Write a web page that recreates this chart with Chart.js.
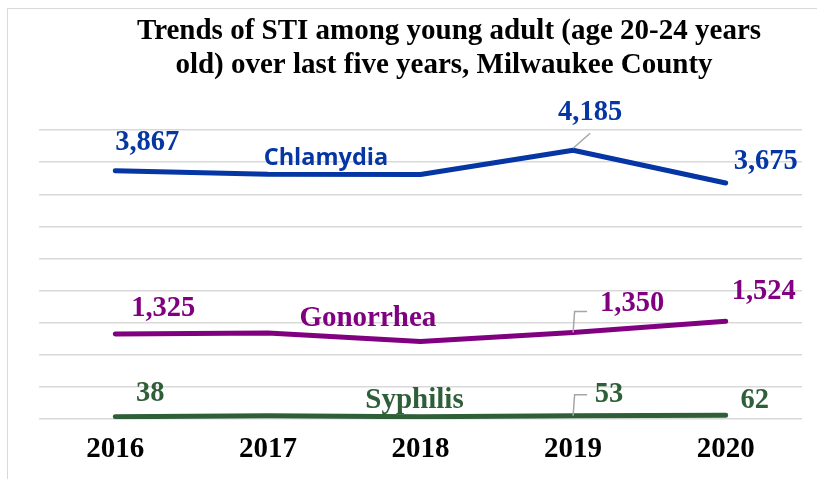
<!DOCTYPE html>
<html>
<head>
<meta charset="utf-8">
<script src="https://cdn.jsdelivr.net/npm/chart.js@4.4.1/dist/chart.umd.min.js"></script>
<style>
  html, body { margin: 0; padding: 0; background: #fff; overflow: hidden; }
  #wrap { position: relative; width: 817px; height: 479px; }
  #frame { position: absolute; left: 7px; top: 8px; width: 900px; height: 600px; border: 1.5px solid #d9d9d9; box-sizing: border-box; }
  canvas { position: absolute; left: 0; top: 0; }
</style>
</head>
<body>
<div id="wrap">
  <div id="frame"></div>
  <canvas id="grafico" width="817" height="479"></canvas>
</div>
<script>
// Datos
const anios = ['2016', '2017', '2018', '2019', '2020'];
const clamidia = [3867, 3810, 3808, 4185, 3675];
const gonorrea = [1325, 1340, 1210, 1350, 1524];
const sifilis = [38, 55, 40, 53, 62];
const etiquetasVisibles = {
    clamidia: [0, 3, 4],
    gonorrea: [0, 3, 4],
    sifilis: [0, 3, 4]
};
const tituloLineas = [
    'Trends of STI among young adult (age 20-24 years',
    'old) over last five years, Milwaukee County'
];

const colores = {
    clamidia: '#0536a3',
    gonorrea: '#800080',
    sifilis: '#2f5f38'
};

const formato = v => v.toLocaleString('en-US');

// desplazamientos de las etiquetas respecto al punto (dx, dy)
const offsets = {
    clamidia: [[32, -28], null, null, [17, -38], [40, -21]],
    gonorrea: [[48, -25], null, null, [59, -29], [38, -30]],
    sifilis: [[35, -23], null, null, [36, -21], [29, -15]]
};
// nombres de serie: índice de anclaje y desplazamiento
const nombres = {
    clamidia: { texto: 'Chlamydia', idx: 1, dx: 58, dy: -16, font: 'bold 23.5px "Open Sans", "Noto Sans", sans-serif' },
    gonorrea: { texto: 'Gonorrhea', idx: 1, dx: 100, dy: -15, font: 'bold 29px "Liberation Serif", serif' },
    sifilis: { texto: 'Syphilis', idx: 2, dx: -6, dy: -16, font: 'bold 29px "Liberation Serif", serif' }
};

/**
 * Plugin que dibuja título, etiquetas de datos y líneas guía
 */
const etiquetas = {
    id: 'etiquetas',
    afterDatasetsDraw(chart) {
        const ctx = chart.ctx;
        const xs = chart.scales.x;
        const ys = chart.scales.y;
        ctx.save();

        // título
        ctx.fillStyle = '#000';
        ctx.font = 'bold 29px "Liberation Serif", serif';
        ctx.textAlign = 'center';
        ctx.textBaseline = 'middle';
        ctx.fillText(tituloLineas[0], 449, 32);
        ctx.fillText(tituloLineas[1], 444, 66);

        chart.data.datasets.forEach(ds => {
            const clave = ds.clave;
            const col = colores[clave];
            // valores
            ctx.font = 'bold 28.5px "Liberation Serif", serif';
            ctx.fillStyle = col;
            etiquetasVisibles[clave].forEach(i => {
                const px = xs.getPixelForValue(i);
                const py = ys.getPixelForValue(ds.data[i]);
                const o = offsets[clave][i];
                ctx.fillText(formato(ds.data[i]), px + o[0], py + o[1]);
            });
            // nombre de la serie
            const n = nombres[clave];
            ctx.font = n.font;
            ctx.fillText(n.texto, xs.getPixelForValue(n.idx) + n.dx, ys.getPixelForValue(ds.data[n.idx]) + n.dy);
        });

        // líneas guía (2019)
        ctx.strokeStyle = '#a6a6a6';
        ctx.lineWidth = 1.5;
        const x19 = xs.getPixelForValue(3);
        let y = ys.getPixelForValue(clamidia[3]);
        ctx.beginPath();
        ctx.moveTo(x19, y - 2);
        ctx.lineTo(x19 + 17, y - 17);
        ctx.stroke();
        [gonorrea[3], sifilis[3]].forEach(v => {
            const yy = ys.getPixelForValue(v);
            ctx.beginPath();
            ctx.moveTo(x19, yy);
            ctx.lineTo(x19 + 1.5, yy - 21);
            ctx.lineTo(x19 + 14, yy - 21);
            ctx.stroke();
        });
        ctx.restore();
    }
};

const serie = (clave, datos) => ({
    clave: clave,
    data: datos,
    borderColor: colores[clave],
    borderWidth: 5,
    borderCapStyle: 'round',
    borderJoinStyle: 'round',
    pointRadius: 0,
    fill: false,
    tension: 0
});

const grafico = new Chart(document.getElementById('grafico').getContext('2d'), {
    type: 'line',
    data: {
        labels: anios,
        datasets: [
            serie('clamidia', clamidia),
            serie('gonorrea', gonorrea),
            serie('sifilis', sifilis)
        ]
    },
    options: {
        responsive: false,
        animation: false,
        layout: { padding: { left: 39, right: 15, top: 130, bottom: 7 } },
        plugins: {
            legend: { display: false },
            tooltip: { enabled: false }
        },
        scales: {
            x: {
                offset: true,
                grid: { display: false },
                border: { display: false },
                ticks: {
                    color: '#000',
                    padding: 5,
                    font: { family: '"Liberation Serif", serif', size: 29, weight: 'bold' }
                }
            },
            y: {
                min: 0,
                max: 4500,
                ticks: { display: false, stepSize: 500 },
                grid: { color: '#d9d9d9', lineWidth: 1.5, drawTicks: false },
                border: { display: false }
            }
        }
    },
    plugins: [etiquetas]
});
</script>
</body>
</html>
